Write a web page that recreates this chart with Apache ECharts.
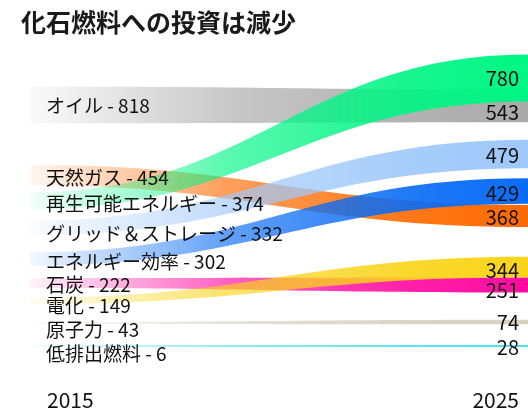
<!DOCTYPE html>
<html>
<head>
<meta charset="utf-8">
<script src="https://cdn.jsdelivr.net/npm/echarts@6/dist/echarts.min.js"></script>
<style>
  html, body { margin: 0; padding: 0; background: #fff; }
  #chart { width: 528px; height: 415px; }
</style>
</head>
<body>
<div id="chart"></div>
<script>
const categories = ['オイル', '天然ガス', '再生可能エネルギー', 'グリッド＆ストレージ', 'エネルギー効率', '石炭', '電化', '原子力', '低排出燃料'];
const values2015 = [818, 454, 374, 332, 302, 222, 149, 43, 6];
const values2025 = [543, 368, 780, 479, 429, 251, 344, 74, 28];
const years = ['2015', '2025'];
const colors = ['#aaaaaa', '#ff6a00', '#00f584', '#9ec8fa', '#0a6cf5', '#ff0aa0', '#f8d418', '#d8d0c0', '#10d8f0'];

// layout: centre (px from top) of each rank slot, per side
const slotLeft = [105, 175, 201, 228, 259, 283, 301, 323, 346];
const slotRight = [78, 106, 154, 191, 216, 267, 285, 322, 346];
const labelLeft = [106, 178, 204, 234, 262, 285, 306, 330, 354];
const labelRight = [78, 112, 155, 193, 217, 270, 290, 322, 347];
const kLeft = 0.045, kRight = 0.06;   // band thickness per unit
const drawOrder = [0, 1, 5, 7, 8, 6, 4, 3, 2];
const FONT = '"Noto Sans CJK JP", "Noto Sans", sans-serif';

function rankOf(vals) {
  const idx = vals.map((v, i) => i).sort((a, b) => vals[b] - vals[a]);
  const r = [];
  idx.forEach((id, k) => { r[id] = k; });
  return r;
}
const rank15 = rankOf(values2015);
const rank25 = rankOf(values2025);

function rgba(hex, a) {
  const n = parseInt(hex.slice(1), 16);
  return 'rgba(' + (n >> 16) + ',' + ((n >> 8) & 255) + ',' + (n & 255) + ',' + a + ')';
}

function renderRibbon(params, api) {
  const i = api.value(0);
  const p0 = api.coord([0, slotLeft[rank15[i]]]);
  const p1 = api.coord([10, slotRight[rank25[i]]]);
  const t0 = Math.max(api.size([0, api.value(1) * kLeft])[1], 1.5) / 2;
  const t1 = Math.max(api.size([0, api.value(2) * kRight])[1], 1.5) / 2;
  const c0 = p0[0] + (p1[0] - p0[0]) * 0.45;
  const c1 = p1[0] - (p1[0] - p0[0]) * 0.45;
  const d = 'M' + p0[0] + ',' + (p0[1] - t0) +
    ' C' + c0 + ',' + (p0[1] - t0) + ' ' + c1 + ',' + (p1[1] - t1) + ' ' + p1[0] + ',' + (p1[1] - t1) +
    ' L' + p1[0] + ',' + (p1[1] + t1) +
    ' C' + c1 + ',' + (p1[1] + t1) + ' ' + c0 + ',' + (p0[1] + t0) + ' ' + p0[0] + ',' + (p0[1] + t0) + ' Z';
  const col = colors[i];
  return {
    type: 'path',
    shape: { pathData: d },
    style: {
      fill: new echarts.graphic.LinearGradient(0, 0, 1, 0, [
        { offset: 0, color: rgba(col, 0.05) },
        { offset: 0.4, color: rgba(col, 0.65) },
        { offset: 0.75, color: rgba(col, 0.9) },
        { offset: 1, color: rgba(col, 1) }
      ])
    }
  };
}

function renderLabels(params, api) {
  const i = api.value(0);
  const yL = api.coord([0, labelLeft[rank15[i]]])[1];
  const yR = api.coord([10, labelRight[rank25[i]]])[1];
  return {
    type: 'group',
    children: [
      {
        type: 'text', x: 46, y: yL,
        style: { text: categories[i] + ' - ' + values2015[i], fontSize: 19, fontFamily: FONT, fill: '#111', align: 'left', verticalAlign: 'middle' }
      },
      {
        type: 'text', x: 519, y: yR,
        style: { text: String(values2025[i]), fontSize: 20, fontFamily: FONT, fill: '#111', align: 'right', verticalAlign: 'middle' }
      }
    ]
  };
}

const chart = echarts.init(document.getElementById('chart'));
chart.setOption({
  animation: false,
  title: {
    text: '化石燃料への投資は減少',
    left: 16, top: 5,
    textStyle: { fontSize: 25, fontWeight: 'bold', fontFamily: FONT, color: '#1a1a1a' }
  },
  grid: { left: 30, right: 0, top: 0, bottom: 0, containLabel: false },
  xAxis: { type: 'value', min: 0, max: 10, show: false },
  yAxis: { type: 'value', min: 0, max: 415, inverse: true, show: false },
  graphic: [
    { type: 'text', left: 47, top: 390, style: { text: years[0], fontSize: 21, fontFamily: FONT, fill: '#111' } },
    { type: 'text', right: 9, top: 390, style: { text: years[1], fontSize: 21, fontFamily: FONT, fill: '#111' } }
  ],
  series: [
    {
      type: 'custom',
      renderItem: renderRibbon,
      data: drawOrder.map(i => [i, values2015[i], values2025[i]]),
      encode: { x: -1, y: -1 },
      z: 2,
      silent: true
    },
    {
      type: 'custom',
      renderItem: renderLabels,
      data: categories.map((c, i) => [i]),
      encode: { x: -1, y: -1 },
      z: 5,
      silent: true
    }
  ]
});
</script>
</body>
</html>
